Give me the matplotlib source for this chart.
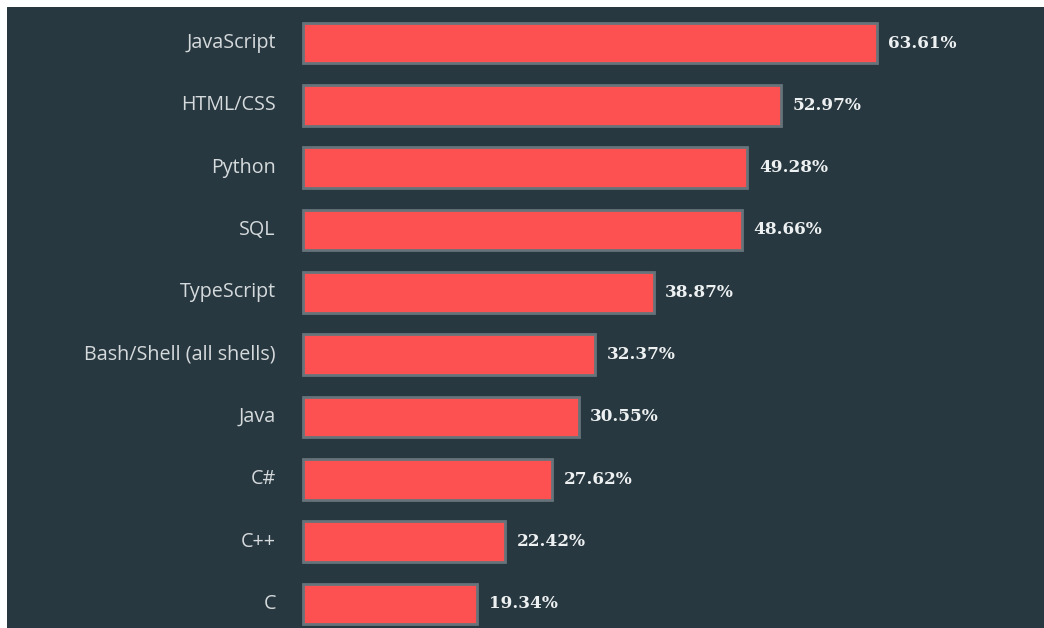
import matplotlib
matplotlib.use("Agg")
import matplotlib.pyplot as plt

languages = ["JavaScript", "HTML/CSS", "Python", "SQL", "TypeScript",
             "Bash/Shell (all shells)", "Java", "C#", "C++", "C"]
percent = [63.61, 52.97, 49.28, 48.66, 38.87, 32.37, 30.55, 27.62, 22.42, 19.34]

BG = "#283840"
BAR = "#fd5050"

fig = plt.figure(figsize=(10.44, 6.28), dpi=100, facecolor="white")
ax = fig.add_axes([7/1044, 0, 1 - 7/1044, (628 - 7)/628])
ax.set_facecolor(BG)

ypos = list(range(len(languages)))
ax.barh(ypos, percent, height=0.65, color=BAR, edgecolor="#66737a", linewidth=2)

ax.set_xlim(-32.8, 82.15)
ax.set_ylim(9.386, -0.578)
ax.axis("off")
ax.add_patch(plt.Rectangle((0, 0), 1, 1, transform=ax.transAxes, color=BG, zorder=-10))

for y, name, v in zip(ypos, languages, percent):
    ax.text(-3.0, y, name, ha="right", va="center", color="#d5dadc",
            fontsize=14.2, family=["Open Sans", "DejaVu Sans"])
    ax.text(v + 1.3, y, f"{v:.2f}%", ha="left", va="center", color="#eef1f2",
            fontsize=12.2, fontweight="bold", family=["DejaVu Serif"])

fig.savefig("out.png", dpi=100, facecolor="white")
